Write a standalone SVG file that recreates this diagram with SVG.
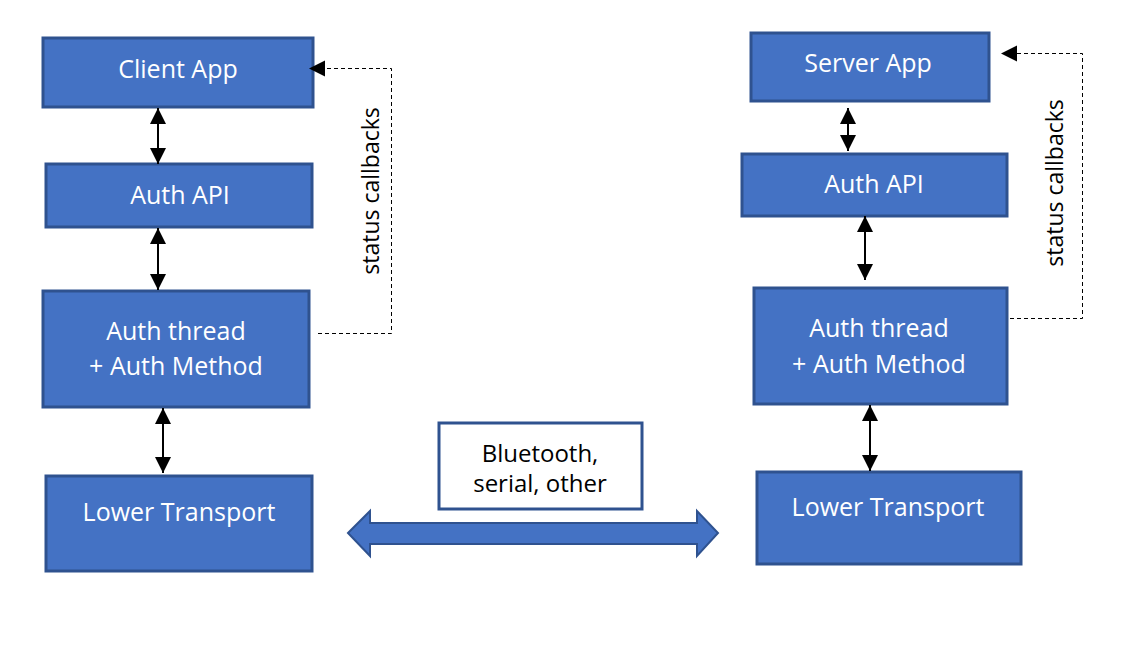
<svg xmlns="http://www.w3.org/2000/svg" width="1140" height="646" viewBox="0 0 1140 646">
<style>
.box{fill:#4472C4;stroke:#2F528F;stroke-width:3}
.wbox{fill:#fff;stroke:#2F528F;stroke-width:3}
.t{font-family:"Open Sans","Noto Sans",sans-serif;font-size:25px;fill:#fff;text-anchor:middle}
.k{font-family:"Open Sans","Noto Sans",sans-serif;font-size:24px;fill:#000;text-anchor:middle}
.s{font-family:"Open Sans","Noto Sans",sans-serif;font-size:23px;fill:#000;text-anchor:middle}
.c{stroke:#000;stroke-width:2;fill:none}
.d{stroke:#000;stroke-width:1;fill:none;stroke-dasharray:4 3}
</style>
<defs>
<marker id="ah" viewBox="0 0 10 10" refX="10" refY="5" markerWidth="16" markerHeight="16" markerUnits="userSpaceOnUse" orient="auto-start-reverse">
<path d="M0,0 L10,5 L0,10 z" fill="#000"/>
</marker>
</defs>
<rect width="1140" height="646" fill="#fff"/>
<g id="client-app"><rect class="box" x="43" y="38" width="270" height="69"/><text class="t" x="178" y="78">Client App</text></g>
<g id="auth-api-l"><rect class="box" x="46" y="164" width="266" height="63"/><text class="t" x="180" y="204">Auth API</text></g>
<g id="auth-thread-l"><rect class="box" x="43" y="291" width="266" height="116"/><text class="t" x="176" y="340">Auth thread</text><text class="t" x="176" y="375">+ Auth Method</text></g>
<g id="lower-l"><rect class="box" x="46" y="476" width="266" height="95"/><text class="t" x="179" y="521">Lower Transport</text></g>
<g id="server-app"><rect class="box" x="751" y="33" width="238" height="68"/><text class="t" x="868" y="72">Server App</text></g>
<g id="auth-api-r"><rect class="box" x="742" y="154" width="265" height="62"/><text class="t" x="874" y="193">Auth API</text></g>
<g id="auth-thread-r"><rect class="box" x="754" y="288" width="253" height="116"/><text class="t" x="879" y="337">Auth thread</text><text class="t" x="879" y="373">+ Auth Method</text></g>
<g id="lower-r"><rect class="box" x="757" y="472" width="264" height="92"/><text class="t" x="888" y="516">Lower Transport</text></g>
<g id="transport"><rect class="wbox" x="439" y="423" width="203" height="86"/><text class="k" x="540" y="462">Bluetooth,</text><text class="k" x="540" y="492">serial, other</text></g>
<g id="connectors">
<line class="c" x1="158" y1="108" x2="158" y2="164" marker-start="url(#ah)" marker-end="url(#ah)"/>
<line class="c" x1="158" y1="228" x2="158" y2="290" marker-start="url(#ah)" marker-end="url(#ah)"/>
<line class="c" x1="163" y1="408" x2="163" y2="473" marker-start="url(#ah)" marker-end="url(#ah)"/>
<line class="c" x1="848" y1="108" x2="848" y2="151" marker-start="url(#ah)" marker-end="url(#ah)"/>
<line class="c" x1="865" y1="216" x2="865" y2="280" marker-start="url(#ah)" marker-end="url(#ah)"/>
<line class="c" x1="870" y1="405" x2="870" y2="471" marker-start="url(#ah)" marker-end="url(#ah)"/>
<polyline class="d" points="318,333.5 391.5,333.5 391.5,68.5 322,68.5"/>
<path d="M309,68.5 L325,60.5 L325,76.5 z" fill="#000"/>
<polyline class="d" points="1010,318.5 1082.5,318.5 1082.5,53.5 1014,53.5"/>
<path d="M1001,53.5 L1017,45.5 L1017,61.5 z" fill="#000"/>
<text class="s" transform="translate(379,191) rotate(-90)">status callbacks</text>
<text class="s" transform="translate(1063,183) rotate(-90)">status callbacks</text>
<path d="M348,533 L370,511 L370,523 L697,523 L697,511 L718,533 L697,556 L697,544 L370,544 L370,556 z" fill="#4472C4" stroke="#2F528F" stroke-width="2"/>
</g>
</svg>
